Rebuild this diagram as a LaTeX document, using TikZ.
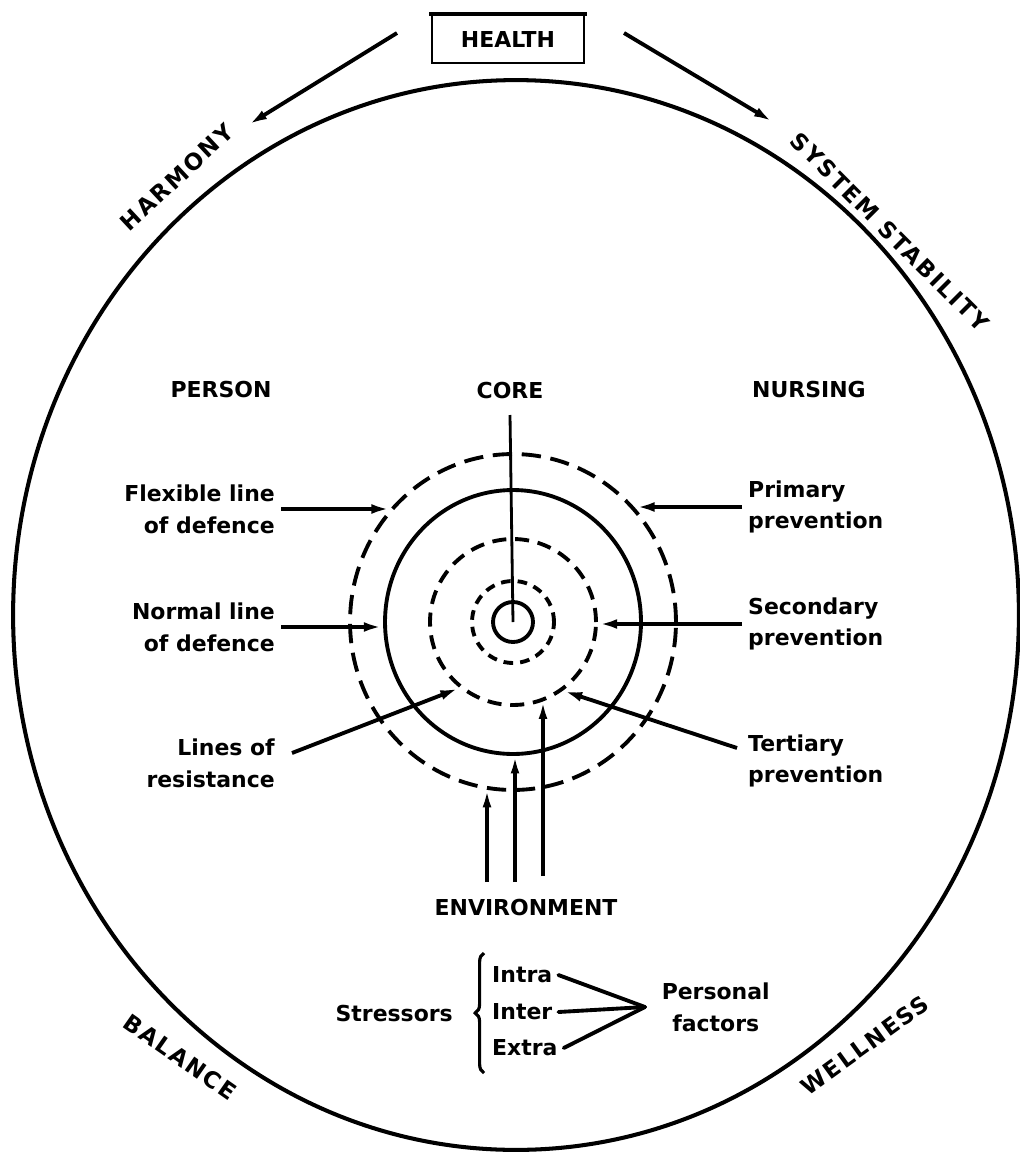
\documentclass[tikz,border=0pt]{standalone}
\usepackage{fontspec}
\setmainfont{DejaVu Sans}
\usetikzlibrary{arrows.meta,positioning,shapes.geometric,decorations.pathreplacing}
\tikzset{
  ring/.style     ={ellipse,draw,line width=2.2pt,inner sep=0pt},
  dashring/.style ={ring,dash pattern=on 11pt off 5.5pt},
  midring/.style  ={ring,dash pattern=on 8pt off 5pt},
  corering/.style ={ring,dash pattern=on 5.5pt off 4pt},
  lbl/.style      ={font=\bfseries\fontsize{12.5pt}{18pt}\selectfont},
  leftlbl/.style  ={lbl,align=right,anchor=east},
  rightlbl/.style ={lbl,align=left,anchor=west},
  caplbl/.style   ={font=\bfseries\fontsize{12.5pt}{15pt}\selectfont},
  arclbl/.style   ={font=\bfseries\fontsize{13pt}{16pt}\selectfont\addfontfeatures{LetterSpace=9}},
  push/.style     ={-{Latex[length=11pt,width=5.5pt]},line width=2.2pt},
  rise/.style     ={-{Latex[length=10pt,width=5pt]},line width=1.8pt},
  link/.style     ={line width=2.2pt,line cap=round}
}
\begin{document}
\begin{tikzpicture}[x=0.02cm,y=-0.02cm]
  \useasboundingbox (0,0) rectangle (1019,1153);
  % outer boundary
  \node[ring,line width=2.3pt,minimum width=20.12cm,minimum height=21.4cm] (world) at (516,615) {};
  % health box and arrows
  \node[caplbl,draw,line width=1.2pt,minimum width=3.04cm,minimum height=0.96cm] (health) at (508,39) {HEALTH};
  \draw[line width=2.6pt] ([xshift=-1pt]health.north west) -- ([xshift=1pt]health.north east);
  \coordinate (hl from) at (397,33);
  \coordinate (hl to) at (248,125);
  \coordinate (hr from) at (624,33);
  \coordinate (hr to) at (773,122);
  \draw[push] (hl from) -- (hl to);
  \draw[push] (hr from) -- (hr to);
  % labels along the boundary
  \node[arclbl,rotate=43] (harmony) at (177,177) {HARMONY};
  \node[arclbl,rotate=-45] (stability) at (890,232) {SYSTEM STABILITY};
  \node[arclbl,rotate=-35] (balance) at (180,1057) {BALANCE};
  \node[arclbl,rotate=36] (wellness) at (865,1045) {WELLNESS};
  % rings round the core
  \coordinate (c) at (513,622);
  \node[ring,minimum size=0.8cm] (core) at (c) {};
  \node[corering,minimum size=1.64cm] (res1) at (c) {};
  \node[midring,minimum size=3.32cm] (res2) at (c) {};
  \node[ring,minimum width=5.12cm,minimum height=5.28cm] (normal) at (c) {};
  \node[dashring,minimum width=6.52cm,minimum height=6.72cm] (flex) at (c) {};
  % headings
  \node[caplbl] (core lbl) at (510,390) {CORE};
  \node[caplbl] (person) at (221,389) {PERSON};
  \node[caplbl] (nursing) at (809,389) {NURSING};
  \node[caplbl] (env) at (526,907) {ENVIRONMENT};
  \coordinate (core top) at (510,415);
  \draw[line width=1.6pt] (core top) -- (core.center);
  % person side
  \node[leftlbl] (flex lbl) at (281,509) {Flexible line\\of defence};
  \node[leftlbl] (norm lbl) at (281,627) {Normal line\\of defence};
  \node[leftlbl] (res lbl) at (281,763) {Lines of\\resistance};
  \coordinate (res from) at (292,753);
  \draw[push] (flex lbl.east) -- (flex.137 |- flex lbl.east);
  \draw[push] (norm lbl.east) -- (normal.west |- norm lbl.east);
  \draw[push] (res from) -- (res2.231);
  % nursing side
  \node[rightlbl] (prim lbl) at (742,507) {Primary\\prevention};
  \node[rightlbl] (sec lbl) at (742,624) {Secondary\\prevention};
  \node[rightlbl] (ter lbl) at (742,761) {Tertiary\\prevention};
  \coordinate (ter from) at (737,748);
  \draw[push] (prim lbl.west) -- (flex.43 |- prim lbl.west);
  \draw[push] (sec lbl.west) -- (res2.east |- sec lbl.west);
  \draw[push] (ter from) -- (res2.306);
  % environment arrows
  \coordinate (e1) at (487,882);
  \coordinate (e2) at (515,882);
  \coordinate (e3) at (543,876);
  \draw[rise] (e1) -- (e1 |- flex.261);
  \draw[rise] (e2) -- (e2 |- normal.south);
  \draw[rise] (e3) -- (e3 |- res2.291);
  % stressors
  \node[lbl,anchor=east] (stress) at (459,1013) {Stressors};
  \coordinate (brace bot) at (484,1073);
  \coordinate (brace top) at (484,953);
  \draw[line width=1.8pt,decorate,decoration={brace,amplitude=5pt}] (brace bot) -- (brace top);
  \node[lbl,anchor=west] (intra) at (486,975) {Intra};
  \node[lbl,anchor=west] (inter) at (486,1012) {Inter};
  \node[lbl,anchor=west] (extra) at (486,1048) {Extra};
  \coordinate (joint) at (645,1007);
  \node[lbl,align=center,right=6pt of joint] (personal) {Personal\\factors};
  \draw[link] (intra.east) -- (joint);
  \draw[link] (inter.east) -- (joint);
  \draw[link] (extra.east) -- (joint);
\end{tikzpicture}
\end{document}
